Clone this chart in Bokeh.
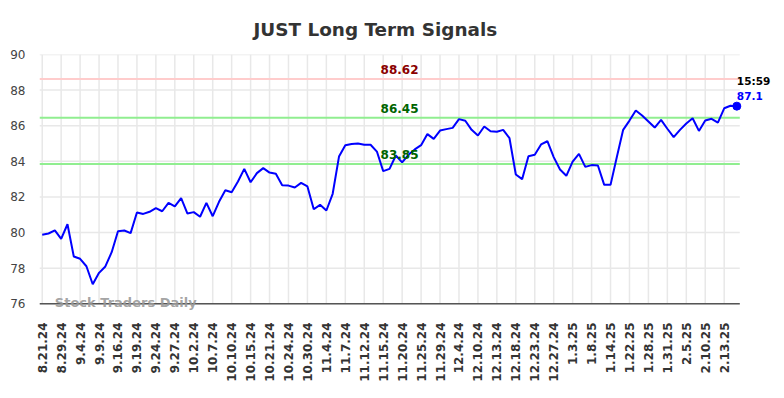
from bokeh.plotting import figure
from bokeh.models import FixedTicker, Range1d, Label
from bokeh.embed import file_html
from bokeh.resources import INLINE

# ---- data ----
tick_labels = ["8.21.24", "8.29.24", "9.4.24", "9.9.24", "9.16.24", "9.19.24", "9.24.24",
               "9.27.24", "10.2.24", "10.7.24", "10.10.24", "10.15.24", "10.21.24",
               "10.24.24", "10.30.24", "11.4.24", "11.7.24", "11.12.24", "11.15.24",
               "11.20.24", "11.25.24", "11.29.24", "12.4.24", "12.10.24", "12.13.24",
               "12.18.24", "12.23.24", "12.27.24", "1.3.25", "1.8.25", "1.14.25",
               "1.22.25", "1.28.25", "1.31.25", "2.5.25", "2.10.25", "2.13.25"]
prices = [
    79.88, 79.95, 80.12, 79.65, 80.47, 78.66, 78.53, 78.11, 77.10, 77.74,
    78.10, 78.90, 80.08, 80.12, 79.97, 81.13, 81.05, 81.17, 81.37, 81.20,
    81.67, 81.47, 81.93, 81.07, 81.15, 80.89, 81.67, 80.92, 81.73, 82.38,
    82.27, 82.87, 83.58, 82.83, 83.34, 83.62, 83.37, 83.30, 82.66, 82.64,
    82.53, 82.79, 82.59, 81.31, 81.56, 81.24, 82.18, 84.27, 84.91, 84.98,
    85.00, 84.93, 84.93, 84.55, 83.45, 83.58, 84.33, 83.94, 84.37, 84.67,
    84.91, 85.53, 85.26, 85.73, 85.81, 85.88, 86.37, 86.28, 85.77, 85.45,
    85.96, 85.69, 85.66, 85.77, 85.30, 83.26, 83.00, 84.29, 84.37, 84.95,
    85.13, 84.24, 83.54, 83.19, 83.99, 84.42, 83.69, 83.79, 83.77, 82.68,
    82.68, 84.24, 85.77, 86.29, 86.86, 86.58, 86.24, 85.90, 86.33, 85.83,
    85.36, 85.77, 86.13, 86.42, 85.71, 86.29, 86.39, 86.18, 86.98, 87.12,
    87.10]
resistance = 88.62
support_levels = [86.45, 83.85]
last_time = "15:59"
y_ticks = [76, 78, 80, 82, 84, 86, 88, 90]

# ---- layout constants ----
FONT = "DejaVu Sans"
X_START, GRID_END, X_END = -0.43, 110.47, 116.6
Y_MIN, Y_MAX, Y_START = y_ticks[0], y_ticks[-1], 75.57

idx = list(range(len(prices)))
tick_pos = list(range(0, 3 * len(tick_labels), 3))

p = figure(width=780, height=396, output_backend="svg", toolbar_location=None,
           x_range=Range1d(X_START, X_END), y_range=Range1d(Y_START, Y_MAX),
           min_border_left=39, min_border_right=2, min_border_top=54,
           min_border_bottom=85)
p.outline_line_color = None
p.background_fill_color = "white"
p.border_fill_color = "white"

p.title.text = "JUST Long Term Signals"
p.title.text_font = FONT
p.title.text_font_size = "18.4px"
p.title.text_font_style = "bold"
p.title.text_color = "#333333"
p.title.align = "left"
p.title.offset = 214
p.title.standoff = 30

# axes
p.xaxis.ticker = FixedTicker(ticks=tick_pos)
p.xaxis.major_label_overrides = {t: s for t, s in zip(tick_pos, tick_labels)}
p.xaxis.major_label_orientation = 3.14159265 / 2
p.xaxis.major_label_text_font = FONT
p.xaxis.major_label_text_font_size = "12px"
p.xaxis.major_label_text_font_style = "bold"
p.xaxis.major_label_text_color = "#333333"
p.xaxis.major_tick_line_color = None
p.xaxis.minor_tick_line_color = None
p.xaxis.major_tick_out = 0
p.xaxis.major_label_standoff = 11
p.xaxis.axis_line_color = None

p.yaxis.ticker = FixedTicker(ticks=y_ticks)
p.yaxis.major_label_text_font = FONT
p.yaxis.major_label_text_font_size = "12px"
p.yaxis.major_label_text_color = "#444444"
p.yaxis.major_tick_line_color = None
p.yaxis.minor_tick_line_color = None
p.yaxis.major_tick_out = 0
p.yaxis.major_label_standoff = 14
p.yaxis.axis_line_color = None

p.xgrid.grid_line_color = None
p.ygrid.grid_line_color = None

# grid lines limited to the chart area
grid_col = "#e8e8e8"
p.segment(x0=[X_START] * len(y_ticks), y0=y_ticks, x1=[GRID_END] * len(y_ticks), y1=y_ticks,
          line_color=grid_col, line_width=1.5)
p.segment(x0=tick_pos, y0=[Y_MIN] * len(tick_pos), x1=tick_pos, y1=[Y_MAX] * len(tick_pos),
          line_color=grid_col, line_width=1.5)

# level lines
p.segment(x0=[X_START], y0=[resistance], x1=[GRID_END], y1=[resistance],
          line_color="#ffcccc", line_width=2)
p.segment(x0=[X_START] * len(support_levels), y0=support_levels,
          x1=[GRID_END] * len(support_levels), y1=support_levels,
          line_color="#90ee90", line_width=2)

label_x = (len(prices) - 1) * 0.5144
p.add_layout(Label(x=label_x, y=resistance, text=f"{resistance:.2f}", text_align="center",
                   text_baseline="bottom", y_offset=5, text_font=FONT,
                   text_font_size="12px", text_font_style="bold", text_color="#8b0000"))
for lv in support_levels:
    p.add_layout(Label(x=label_x, y=lv, text=f"{lv:.2f}", text_align="center",
                       text_baseline="bottom", y_offset=5, text_font=FONT,
                       text_font_size="12px", text_font_style="bold", text_color="#006400"))

# price line
p.line(idx, prices, line_color="#0000ff", line_width=2)
p.scatter([idx[-1]], [prices[-1]], size=8, fill_color="#0000ff", line_color="#0000ff")

# bottom axis line
p.segment(x0=[X_START], y0=[Y_MIN], x1=[GRID_END], y1=[Y_MIN],
          line_color="#555555", line_width=1.5)

p.add_layout(Label(x=idx[-1], y=prices[-1], text=last_time, text_align="left",
                   text_baseline="middle", y_offset=25, text_font=FONT,
                   text_font_size="10.5px", text_font_style="bold", text_color="#000000"))
p.add_layout(Label(x=idx[-1], y=prices[-1], text=f"{prices[-1]:.1f}", text_align="left",
                   text_baseline="middle", y_offset=10, text_font=FONT,
                   text_font_size="10.5px", text_font_style="bold", text_color="#0000ff"))

# watermark
p.add_layout(Label(x=2, y=Y_MIN, text="Stock Traders Daily", text_align="left",
                   text_baseline="middle", y_offset=1, text_font=FONT,
                   text_font_size="13px", text_font_style="bold", text_color="#999999",
                   text_alpha=0.9))

open("out.html", "w").write(file_html(p, INLINE))
